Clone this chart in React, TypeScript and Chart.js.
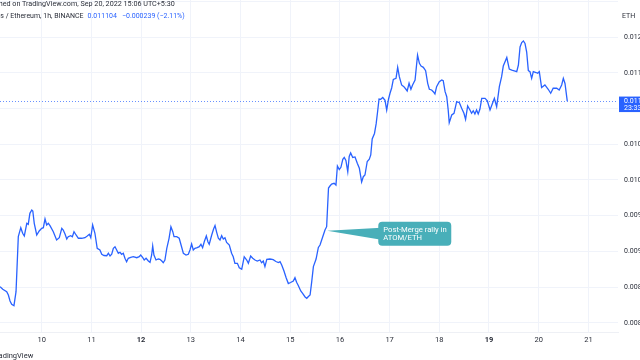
import { useEffect, useRef } from "react";
import { Chart, registerables } from "chart.js";

Chart.register(...registerables);

const FONT = "Roboto, 'Liberation Sans', sans-serif";

// hours since Sep 9 00:00 (1h bars)
const hours = [
  3.9, 5.2, 7.1, 7.9, 8.7, 9.5, 10.6, 11.6, 12.7, 13.9, 14.8, 15.6, 16.8, 17.5, 18.3, 19.2, 19.7, 20.4, 21.6, 22.8,
  24.0, 24.8, 25.6, 26.4, 27.2, 28.0, 29.6, 31.2, 32.5, 33.7, 34.4, 35.3, 36.1, 36.8, 38.0, 38.8, 39.6, 40.6, 41.7, 43.3,
  44.9, 46.0, 47.0, 47.7, 48.6, 49.7, 50.8, 52.1, 53.0, 54.1, 55.4, 56.2, 57.0, 57.8, 58.6, 59.4, 60.2, 61.0, 61.8, 62.6,
  63.4, 64.2, 65.0, 65.8, 67.0, 68.2, 69.9, 71.1, 71.8, 72.8, 73.5, 74.4, 75.5, 76.3, 77.1, 77.6, 78.2, 79.2, 80.3, 81.1,
  82.0, 82.7, 83.5, 84.4, 85.5, 86.4, 87.3, 87.9, 89.2, 90.4, 91.3, 92.4, 93.7, 94.8, 95.6, 96.4, 97.2, 98.0, 99.1, 100.1,
  100.9, 101.7, 102.5, 103.5, 104.3, 104.9, 106.1, 107.0, 107.7, 108.5, 109.3, 110.1, 110.9, 111.7, 112.5, 113.3, 114.6, 115.7, 116.5, 117.3,
  118.5, 119.4, 120.6, 121.8, 123.0, 123.8, 124.9, 125.9, 127.0, 128.1, 129.4, 130.2, 131.0, 131.8, 132.7, 134.2, 135.8, 137.1, 138.3, 139.1,
  139.9, 141.0, 142.0, 143.1, 144.2, 145.5, 146.3, 147.1, 147.9, 149.1, 150.0, 151.2, 152.0, 152.8, 153.6, 154.4, 155.2, 156.5, 157.6, 158.4,
  160.0, 160.8, 161.6, 162.5, 163.2, 164.0, 165.2, 166.1, 166.8, 167.7, 168.5, 169.4, 170.1, 170.9, 171.8, 172.5, 173.2, 174.2, 175.3, 176.4,
  177.4, 178.5, 179.3, 180.1, 181.2, 182.2, 182.9, 183.6, 184.7, 185.5, 186.2, 186.9, 187.7, 188.7, 189.8, 190.6, 191.5, 192.2, 193.0, 193.8,
  195.1, 195.9, 196.7, 197.8, 198.9, 199.9, 200.5, 201.4, 202.3, 203.1, 204.3, 205.5, 206.4, 207.2, 208.3, 209.4, 210.4, 211.2, 212.3, 213.1,
  213.9, 214.7, 216.0, 217.2, 217.9, 218.8, 219.6, 220.3, 220.8, 222.0, 223.1, 224.4, 225.7, 226.8, 227.9, 228.7, 229.7, 230.8, 231.6, 232.4,
  233.2, 234.0, 234.8, 235.6, 236.5, 238.1, 239.2, 240.5, 241.8, 242.6, 243.7, 245.0, 246.1, 246.9, 248.6, 249.8, 251.0, 252.6, 253.4, 254.2,
  255.0, 255.8, 256.6, 257.4, 258.2, 259.0, 259.8, 260.6, 261.4, 262.7, 263.5, 264.3, 265.4, 267.0, 268.6, 269.8, 271.0, 272.7, 273.9, 275.1,
  275.9, 276.7, 277.8,
];

// ATOM/ETH close prices
const prices = [
  0.008508, 0.008471, 0.008438, 0.008392, 0.008308, 0.008262, 0.008242, 0.008438, 0.009207, 0.009333, 0.009255, 0.009217, 0.009394, 0.009380, 0.009534, 0.009580, 0.009566, 0.009394, 0.009231, 0.009287,
  0.009324, 0.009333, 0.009455, 0.009371, 0.009394, 0.009361, 0.009277, 0.009161, 0.009193, 0.009324, 0.009301, 0.009240, 0.009175, 0.009207, 0.009221, 0.009207, 0.009277, 0.009231, 0.009185, 0.009185,
  0.009193, 0.009217, 0.009240, 0.009193, 0.009371, 0.009255, 0.009045, 0.009021, 0.008961, 0.008944, 0.008941, 0.008975, 0.008937, 0.008961, 0.009045, 0.009067, 0.009021, 0.008975, 0.008989, 0.008961,
  0.008975, 0.008905, 0.008857, 0.008905, 0.008919, 0.008927, 0.008913, 0.008927, 0.008951, 0.008913, 0.008881, 0.008905, 0.008867, 0.008849, 0.008951, 0.009077, 0.008951, 0.008881, 0.008895, 0.008891,
  0.008867, 0.008843, 0.008881, 0.009045, 0.009185, 0.009347, 0.009277, 0.009207, 0.009207, 0.009185, 0.009091, 0.008975, 0.008951, 0.008961, 0.009021, 0.009105, 0.009021, 0.009045, 0.009053, 0.009067,
  0.009101, 0.009053, 0.009137, 0.009217, 0.009133, 0.009101, 0.009231, 0.009315, 0.009364, 0.009268, 0.009185, 0.009161, 0.009221, 0.009175, 0.009193, 0.009126, 0.009091, 0.008975, 0.008927, 0.008835,
  0.008835, 0.008773, 0.008753, 0.008927, 0.008881, 0.008835, 0.008937, 0.008905, 0.008881, 0.008867, 0.008881, 0.008843, 0.008867, 0.008788, 0.008891, 0.008895, 0.008885, 0.008860, 0.008846, 0.008857,
  0.008811, 0.008727, 0.008636, 0.008552, 0.008566, 0.008587, 0.008634, 0.008569, 0.008524, 0.008448, 0.008415, 0.008364, 0.008346, 0.008371, 0.008392, 0.008578, 0.008788, 0.008895, 0.009056, 0.009091,
  0.009231, 0.009301, 0.009347, 0.009888, 0.009916, 0.009944, 0.009954, 0.009930, 0.010196, 0.010147, 0.010178, 0.010290, 0.010315, 0.010273, 0.010116, 0.010329, 0.010378, 0.010315, 0.010322, 0.010234,
  0.010164, 0.009972, 0.010046, 0.010070, 0.010259, 0.010290, 0.010350, 0.010574, 0.010651, 0.010784, 0.010955, 0.011133, 0.011129, 0.011154, 0.011115, 0.010979, 0.011133, 0.011213, 0.011287, 0.011406,
  0.011422, 0.011576, 0.011445, 0.011329, 0.011305, 0.011269, 0.011245, 0.011353, 0.011269, 0.011329, 0.011399, 0.011748, 0.011632, 0.011594, 0.011576, 0.011529, 0.011352, 0.011269, 0.011259, 0.011235,
  0.011203, 0.011305, 0.011375, 0.011399, 0.011389, 0.011235, 0.011165, 0.010979, 0.010802, 0.010909, 0.010933, 0.011095, 0.011081, 0.011003, 0.010933, 0.010849, 0.011035, 0.010979, 0.010933, 0.010969,
  0.010923, 0.010979, 0.010923, 0.010989, 0.011143, 0.011143, 0.011109, 0.010979, 0.011081, 0.011143, 0.011025, 0.011305, 0.011445, 0.011594, 0.011713, 0.011552, 0.011538, 0.011524, 0.011515, 0.011608,
  0.011860, 0.011923, 0.011944, 0.011909, 0.011790, 0.011529, 0.011515, 0.011422, 0.011515, 0.011503, 0.011492, 0.011515, 0.011294, 0.011329, 0.011269, 0.011213, 0.011283, 0.011283, 0.011259, 0.011329,
  0.011422, 0.011350, 0.011104,
];

const xMin = 3.86;
const xMax = 302.3;
const yMin = 0.0078741;
const yMax = 0.0125175;
const boldDays = [12, 19];

const lastPrice = 0.011104;
const countdown = "23:33";
const calloutHour = 161.9;
const calloutPrice = 0.00929;
const calloutLines = ["Post-Merge rally in", "ATOM/ETH"];

const headerLine1 = "Published on TradingView.com, Sep 20, 2022 15:06 UTC+5:30";
const symbolTitle = "Cosmos / Ethereum, 1h, BINANCE";
const lastText = "0.011104";
const changeText = "\u22120.000239 (\u22122.11%)";

export default function App() {
  const ref = useRef<HTMLCanvasElement>(null);

  useEffect(() => {
    const canvas = ref.current;
    if (!canvas) return;
    const pts = hours.map((h, i) => ({ x: h, y: prices[i] }));

    const overlay = {
      id: "overlay",
      beforeDatasetsDraw(chart: any) {
        const { ctx, chartArea } = chart;
        const py = chart.scales.y.getPixelForValue(lastPrice);
        ctx.save();
        ctx.strokeStyle = "rgba(41,98,255,0.7)";
        ctx.lineWidth = 1;
        ctx.setLineDash([1, 2]);
        ctx.beginPath();
        ctx.moveTo(chartArea.left, Math.round(py) + 0.5);
        ctx.lineTo(chartArea.right, Math.round(py) + 0.5);
        ctx.stroke();
        ctx.restore();
      },
      afterDraw(chart: any) {
        const { ctx, chartArea } = chart;
        const xs = chart.scales.x;
        const ys = chart.scales.y;
        // callout
        const tx = xs.getPixelForValue(calloutHour);
        const ty = ys.getPixelForValue(calloutPrice);
        const bx = tx + 51;
        const by = ty - 9;
        const bw = 73;
        const bh = 24;
        ctx.save();
        ctx.fillStyle = "#48AFB9";
        ctx.beginPath();
        ctx.moveTo(tx, ty);
        ctx.lineTo(bx + 3, ty - 3);
        ctx.lineTo(bx + 3, ty + 9);
        ctx.closePath();
        ctx.fill();
        ctx.beginPath();
        (ctx as any).roundRect(bx, by, bw, bh, 4);
        ctx.fill();
        ctx.fillStyle = "#ffffff";
        ctx.font = `7.7px ${FONT}`;
        ctx.textBaseline = "middle";
        ctx.textAlign = "left";
        calloutLines.forEach((t, i) => ctx.fillText(t, bx + 5, by + 8 + i * 8));
        // last price label
        const py = ys.getPixelForValue(lastPrice);
        ctx.fillStyle = "#2962FF";
        ctx.fillRect(chartArea.right + 1, py - 4.5, 40, 15.5);
        ctx.fillStyle = "#ffffff";
        ctx.font = `7px ${FONT}`;
        ctx.fillText(lastText, chartArea.right + 6, py);
        ctx.fillText(countdown, chartArea.right + 6, py + 7.5);
        ctx.restore();
      },
    };

    const chart = new Chart(canvas, {
      type: "line",
      data: {
        datasets: [
          {
            data: pts,
            borderColor: "#2962FF",
            borderWidth: 1.3,
            pointRadius: 0,
            tension: 0,
          },
        ],
      },
      options: {
        animation: false,
        responsive: false,
        devicePixelRatio: 1,
        layout: { padding: 0 },
        plugins: { legend: { display: false }, tooltip: { enabled: false } },
        scales: {
          x: {
            type: "linear",
            min: xMin,
            max: xMax,
            afterFit(scale: any) {
              scale.height = 28;
              scale.paddingLeft = 0;
              scale.paddingRight = 0;
            },
            grid: { color: "#F0F3FA", drawTicks: false },
            border: { display: true, color: "#EEF0F5" },
            ticks: {
              stepSize: 24,
              includeBounds: false,
              autoSkip: false,
              maxRotation: 0,
              padding: 4,
              color: "#2A2E39",
              font: (c: any) => {
                const d = c.tick ? Math.round(9 + c.tick.value / 24) : 0;
                return { family: FONT, size: 7.5, weight: boldDays.includes(d) ? "bold" : "normal" };
              },
              callback: (v: any) => String(Math.round(9 + Number(v) / 24)),
            },
          },
          y: {
            type: "linear",
            position: "right",
            min: yMin,
            max: yMax,
            afterFit(scale: any) {
              scale.width = 22;
              scale.paddingTop = 0;
              scale.paddingBottom = 0;
            },
            grid: { color: "#F0F3FA", drawTicks: false },
            border: { display: false },
            ticks: {
              stepSize: 0.0005,
              includeBounds: false,
              padding: 6,
              color: "#2A2E39",
              font: { family: FONT, size: 7 },
              callback: (v: any) => (Number(v) > 0.0122 ? "" : Number(v).toFixed(6)),
            },
          },
        },
      },
      plugins: [overlay],
    } as any);
    return () => chart.destroy();
  }, []);

  return (
    <div style={{ position: "relative", width: 640, height: 360, overflow: "hidden", background: "#ffffff", fontFamily: FONT }}>
      <style>{"body{margin:0}"}</style>
      <canvas ref={ref} width={640} height={360} style={{ position: "absolute", left: 0, top: 0 }} />
      <div style={{ position: "absolute", left: -21, top: -1, fontSize: 7.2, color: "#2A2E39", whiteSpace: "nowrap", lineHeight: "10px" }}>
        {headerLine1}
      </div>
      <div style={{ position: "absolute", left: -22, top: 11, fontSize: 7, color: "#2A2E39", whiteSpace: "nowrap", lineHeight: "10px" }}>
        <span>{symbolTitle}</span>
        <span style={{ color: "#2962FF", marginLeft: 4 }}>{lastText}</span>
        <span style={{ color: "#2962FF", marginLeft: 5 }}>{changeText}</span>
      </div>
      <div style={{ position: "absolute", left: 622, top: 11, fontSize: 7, color: "#2A2E39", lineHeight: "10px" }}>ETH</div>
      <div style={{ position: "absolute", left: -8, top: 351, fontSize: 7.5, color: "#2A2E39", whiteSpace: "nowrap", lineHeight: "10px" }}>
        TradingView
      </div>
    </div>
  );
}
